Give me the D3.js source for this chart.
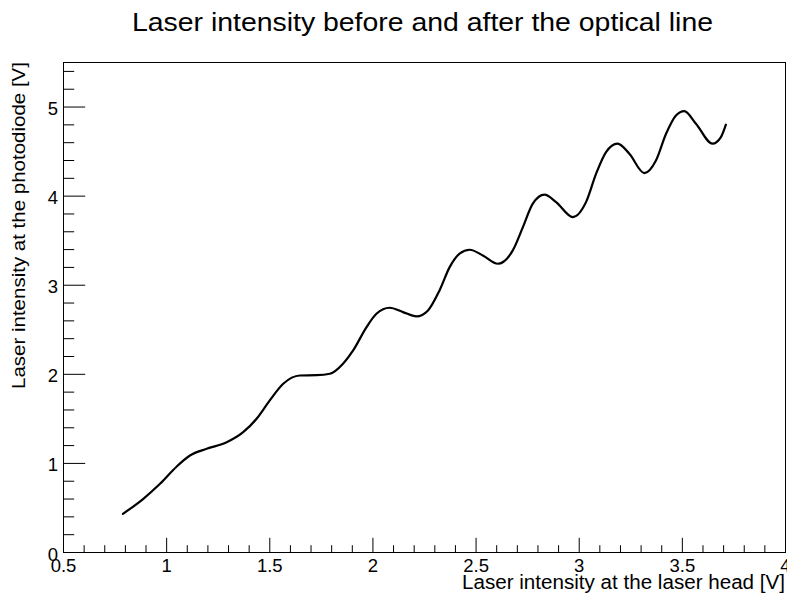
<!DOCTYPE html>
<html>
<head>
<meta charset="utf-8">
<script src="https://cdn.jsdelivr.net/npm/d3@7"></script>
<style>
  html, body { margin: 0; padding: 0; background: #fff; }
  svg { display: block; }
  text { font-family: "Liberation Sans", Arial, Helvetica, sans-serif; fill: #000; }
</style>
</head>
<body>
<svg id="chart" width="787" height="595"></svg>
<script>
// Photodiode reading (V) against laser head intensity (V)
const headVolts = [0.788, 0.887, 0.968, 1.049, 1.113, 1.194, 1.291, 1.371, 1.436, 1.500,
  1.565, 1.646, 1.727, 1.791, 1.855, 1.904, 1.969, 2.017, 2.081, 2.146,
  2.211, 2.267, 2.323, 2.372, 2.420, 2.469, 2.533, 2.606, 2.678, 2.727,
  2.775, 2.832, 2.888, 2.969, 3.033, 3.082, 3.130, 3.186, 3.243, 3.316,
  3.372, 3.421, 3.469, 3.509, 3.566, 3.646, 3.687, 3.711];
const diodeVolts = [0.434, 0.603, 0.771, 0.966, 1.089, 1.164, 1.238, 1.351, 1.501, 1.707,
  1.894, 1.987, 1.990, 2.006, 2.119, 2.268, 2.530, 2.680, 2.747, 2.698,
  2.650, 2.717, 2.942, 3.203, 3.354, 3.398, 3.334, 3.241, 3.391, 3.652,
  3.915, 4.016, 3.933, 3.765, 3.933, 4.252, 4.494, 4.589, 4.476, 4.259,
  4.401, 4.701, 4.906, 4.955, 4.813, 4.589, 4.663, 4.802];

const xDomain = [0.5, 4];
const yDomain = [0, 5.5];
const xMajorTicks = [0.5, 1, 1.5, 2, 2.5, 3, 3.5, 4];
const xTickLabels = ["0.5", "1", "1.5", "2", "2.5", "3", "3.5", "4"];
const yMajorTicks = [0, 1, 2, 3, 4, 5];
const yTickLabels = ["0", "1", "2", "3", "4", "5"];

const titleText = "Laser intensity before and after the optical line";
const xTitleText = "Laser intensity at the laser head [V]";
const yTitleText = "Laser intensity at the photodiode [V]";

const frame = { left: 63.5, right: 785.5, top: 62.5, bottom: 552.5 };

const svg = d3.select("#chart");
svg.append("rect").attr("width", 787).attr("height", 595).attr("fill", "#fff");

const x = d3.scaleLinear().domain(xDomain).range([frame.left, frame.right]);
const y = d3.scaleLinear().domain(yDomain).range([frame.bottom, frame.top]);

// frame box
svg.append("rect")
  .attr("x", frame.left).attr("y", frame.top)
  .attr("width", frame.right - frame.left)
  .attr("height", frame.bottom - frame.top)
  .attr("fill", "none").attr("stroke", "#000").attr("stroke-width", 1);

// x axis: major every 0.5, minor every 0.1, ticks point up into the frame
const xMinor = d3.range(5, 41).map(d => d / 10).filter(v => !xMajorTicks.some(m => Math.abs(m - v) < 1e-9));
const xAxis = svg.append("g").attr("transform", `translate(0,${frame.bottom})`);
xAxis.selectAll("line.major").data(xMajorTicks).join("line")
  .attr("x1", d => x(d)).attr("x2", d => x(d))
  .attr("y1", 0).attr("y2", -14.7)
  .attr("stroke", "#000");
xAxis.selectAll("line.minor").data(xMinor).join("line")
  .attr("x1", d => x(d)).attr("x2", d => x(d))
  .attr("y1", 0).attr("y2", -7.3)
  .attr("stroke", "#000");
xAxis.selectAll("text").data(xMajorTicks).join("text")
  .attr("x", d => x(d)).attr("y", 19.5)
  .attr("text-anchor", "middle")
  .attr("font-size", 18.5)
  .text((d, i) => xTickLabels[i]);

// y axis: major every 1, minor every 0.2, ticks point right into the frame
const yMinor = d3.range(0, 28).map(d => d / 5).filter(v => v <= 5.5 && !yMajorTicks.some(m => Math.abs(m - v) < 1e-9));
const yAxis = svg.append("g").attr("transform", `translate(${frame.left},0)`);
yAxis.selectAll("line.major").data(yMajorTicks).join("line")
  .attr("x1", 0).attr("x2", 21.7)
  .attr("y1", d => y(d)).attr("y2", d => y(d))
  .attr("stroke", "#000");
yAxis.selectAll("line.minor").data(yMinor).join("line")
  .attr("x1", 0).attr("x2", 10.7)
  .attr("y1", d => y(d)).attr("y2", d => y(d))
  .attr("stroke", "#000");
yAxis.selectAll("text").data(yMajorTicks).join("text")
  .attr("x", -5.5).attr("y", d => y(d) + 8)
  .attr("text-anchor", "end")
  .attr("font-size", 18.5)
  .text((d, i) => yTickLabels[i]);

// titles
svg.append("text")
  .attr("x", 422.5).attr("y", 30.5)
  .attr("text-anchor", "middle")
  .attr("font-size", 26)
  .attr("textLength", 581).attr("lengthAdjust", "spacingAndGlyphs")
  .text(titleText);

svg.append("text")
  .attr("x", 785).attr("y", 589)
  .attr("text-anchor", "end")
  .attr("font-size", 20)
  .attr("textLength", 323).attr("lengthAdjust", "spacingAndGlyphs")
  .text(xTitleText);

svg.append("text")
  .attr("transform", "translate(24.5,62) rotate(-90)")
  .attr("text-anchor", "end")
  .attr("font-size", 18)
  .attr("textLength", 327).attr("lengthAdjust", "spacingAndGlyphs")
  .text(yTitleText);

// measured curve
const pts = headVolts.map((v, i) => [v, diodeVolts[i]]);
const line = d3.line()
  .x(d => x(d[0]))
  .y(d => y(d[1]))
  .curve(d3.curveMonotoneX);
svg.append("path")
  .datum(pts)
  .attr("d", line)
  .attr("fill", "none")
  .attr("stroke", "#000")
  .attr("stroke-width", 2.2)
  .attr("stroke-linejoin", "round")
  .attr("stroke-linecap", "round");
</script>
</body>
</html>
